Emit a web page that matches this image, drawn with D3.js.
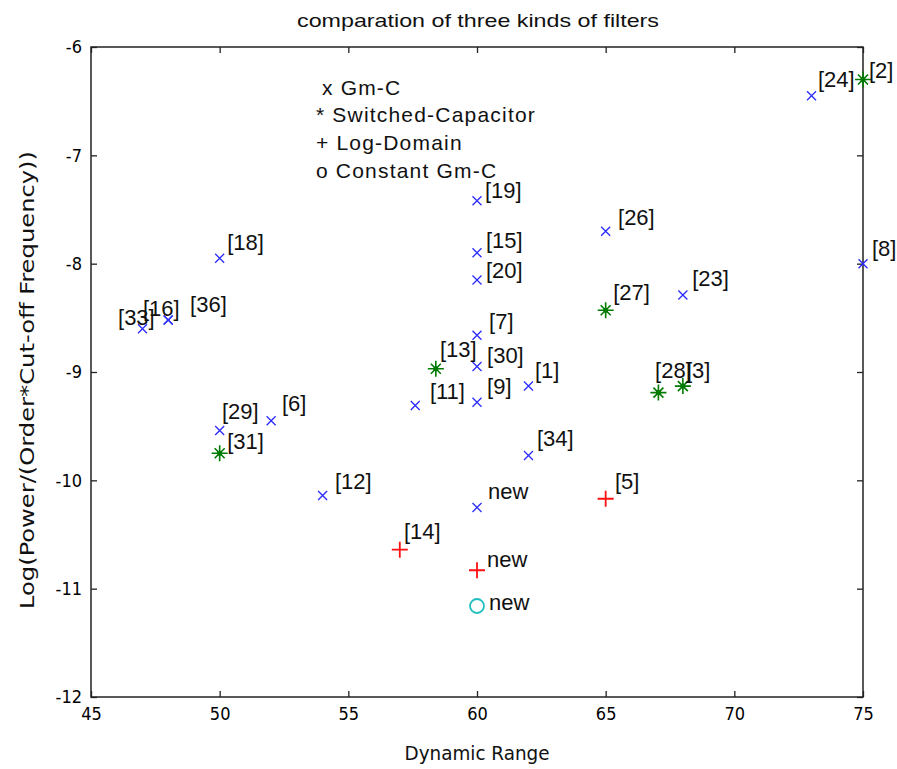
<!DOCTYPE html>
<html lang="en">
  <head>
    <meta charset="utf-8"/>
    <script src="https://d3js.org/d3.v7.min.js"></script>
    <style>
      body { margin: 0; background: #fff; }
      .tick text { font: 18px "Liberation Sans Narrow", "DejaVu Sans Condensed", sans-serif; fill: #000; }
      .tick line { stroke: #222; stroke-width: 1.3; }
      .lbl { font: 22px "Liberation Sans", Arial, sans-serif; fill: #111; }
      .legend text { font: 21px "Liberation Sans", Arial, sans-serif; fill: #111; letter-spacing: 1.2px; }
    </style>
  </head>
  <body>
    <svg class="chart"></svg>
  </body>
  <script>
    // Gm-C (blue x)
    const gmcX = [73, 75, 60, 65, 60, 60, 50, 47, 48, 48, 50, 52, 54, 57.6, 60, 60, 60, 62, 62, 68, 60];
    const gmcY = [-6.45, -8.0, -7.42, -7.70, -7.90, -8.15, -7.95, -8.60, -8.52, -8.52, -9.54, -9.45, -10.14, -9.31, -8.66, -8.95, -9.28, -9.13, -9.77, -8.29, -10.25];
    const gmcText = ["[24]", "[8]", "[19]", "[26]", "[15]", "[20]", "[18]", "[33]", "[16]", "[36]", "[29]", "[6]", "[12]", "[11]", "[7]", "[30]", "[9]", "[1]", "[34]", "[23]", "new"];
    const gmcTextX = [73.25, 75.35, 60.31, 65.48, 60.35, 60.35, 50.29, 46.05, 47.02, 48.85, 50.09, 52.42, 54.48, 58.17, 60.47, 60.39, 60.39, 62.25, 62.33, 68.36, 60.43];
    const gmcTextY = [-6.30, -7.86, -7.32, -7.57, -7.78, -8.06, -7.80, -8.49, -8.41, -8.37, -9.36, -9.29, -10.01, -9.18, -8.53, -8.84, -9.13, -8.98, -9.61, -8.13, -10.10];

    // Switched-Capacitor (green *)
    const scX = [75, 65, 58.4, 67.05, 68, 50];
    const scY = [-6.30, -8.43, -8.97, -9.19, -9.13, -9.75];
    const scText = ["[2]", "[27]", "[13]", "[28]", "[3]", "[31]"];
    const scTextX = [75.23, 65.29, 58.56, 66.92, 68.12, 50.29];
    const scTextY = [-6.21, -8.26, -8.79, -8.98, -8.98, -9.64];

    // Log-Domain (red +)
    const ldX = [57, 60, 65];
    const ldY = [-10.64, -10.83, -10.17];
    const ldText = ["[14]", "new", "[5]"];
    const ldTextX = [57.16, 60.39, 65.36];
    const ldTextY = [-10.47, -10.73, -10.01];

    // Constant Gm-C (cyan o)
    const cgX = [60];
    const cgY = [-11.16];
    const cgText = ["new"];
    const cgTextX = [60.47];
    const cgTextY = [-11.12];

    const legendLines = ["x Gm-C", "* Switched-Capacitor", "+ Log-Domain", "o Constant Gm-C"];
    const legendPos = [53.74, -6.37];

    const xTicks = [45, 50, 55, 60, 65, 70, 75];
    const yTicks = [-12, -11, -10, -9, -8, -7, -6];

    const W = 897, H = 769;
    const m = {left: 91, right: 34, top: 47, bottom: 72};

    const x = d3.scaleLinear().domain([45, 75]).range([m.left, W - m.right]);
    const y = d3.scaleLinear().domain([-12, -6]).range([H - m.bottom, m.top]);

    const svg = d3.select(".chart").attr("width", W).attr("height", H);

    const plain = d => String(d);

    // axes, ticks pointing inward
    svg.append("g").attr("transform", "translate(0," + (H - m.bottom) + ")")
      .call(d3.axisBottom(x).tickValues(xTicks).tickFormat(plain).tickSizeInner(-6).tickSizeOuter(0).tickPadding(10))
      .call(g => g.select(".domain").remove());
    svg.append("g").attr("transform", "translate(0," + m.top + ")")
      .call(d3.axisTop(x).tickValues(xTicks).tickSizeInner(-6).tickSizeOuter(0).tickFormat(""))
      .call(g => g.select(".domain").remove());
    svg.append("g").attr("transform", "translate(" + m.left + ",0)")
      .call(d3.axisLeft(y).tickValues(yTicks).tickFormat(plain).tickSizeInner(-6).tickSizeOuter(0).tickPadding(9))
      .call(g => g.select(".domain").remove());
    svg.append("g").attr("transform", "translate(" + (W - m.right) + ",0)")
      .call(d3.axisRight(y).tickValues(yTicks).tickSizeInner(-6).tickSizeOuter(0).tickFormat(""))
      .call(g => g.select(".domain").remove());

    svg.append("rect")
      .attr("x", x(45)).attr("y", y(-6))
      .attr("width", x(75) - x(45)).attr("height", y(-12) - y(-6))
      .attr("fill", "none").attr("stroke", "#222").attr("stroke-width", 1.5);

    // titles
    svg.append("text").attr("x", 478).attr("y", 27)
      .attr("text-anchor", "middle")
      .attr("textLength", 362).attr("lengthAdjust", "spacingAndGlyphs")
      .style("font", "19px 'Liberation Sans', Arial, sans-serif").attr("fill", "#111")
      .text("comparation of three kinds of filters");
    svg.append("text").attr("x", (x(45) + x(75)) / 2).attr("y", 760)
      .attr("text-anchor", "middle")
      .attr("textLength", 145).attr("lengthAdjust", "spacingAndGlyphs")
      .style("font", "20px 'Liberation Sans Narrow', 'DejaVu Sans Condensed', sans-serif").attr("fill", "#111")
      .text("Dynamic Range");
    svg.append("text")
      .attr("transform", "translate(34," + 380 + ") rotate(-90)")
      .attr("text-anchor", "middle")
      .attr("textLength", 458).attr("lengthAdjust", "spacingAndGlyphs")
      .style("font", "19px 'Liberation Sans Narrow', 'DejaVu Sans Condensed', sans-serif").attr("fill", "#111")
      .text("Log(Power/(Order*Cut-off Frequency))");

    function pts(xs, ys) { return xs.map((v, i) => ({x: v, y: ys[i]})); }

    // Gm-C markers
    const gx = svg.append("g").attr("stroke", "#2a2aff").attr("stroke-width", 1.3);
    gx.selectAll("path").data(pts(gmcX, gmcY)).join("path")
      .attr("d", d => {
        const cx = x(d.x), cy = y(d.y), s = 4.5;
        return `M${cx - s},${cy - s}L${cx + s},${cy + s}M${cx - s},${cy + s}L${cx + s},${cy - s}`;
      });

    // Switched-capacitor markers
    const gs = svg.append("g").attr("stroke", "#007a00").attr("stroke-width", 1.6);
    gs.selectAll("path").data(pts(scX, scY)).join("path")
      .attr("d", d => {
        const cx = x(d.x), cy = y(d.y), s = 8, t = 5;
        return `M${cx - s},${cy}L${cx + s},${cy}M${cx},${cy - s}L${cx},${cy + s}` +
          `M${cx - t},${cy - t}L${cx + t},${cy + t}M${cx - t},${cy + t}L${cx + t},${cy - t}`;
      });
    gs.selectAll("circle").data(pts(scX, scY)).join("circle")
      .attr("cx", d => x(d.x)).attr("cy", d => y(d.y)).attr("r", 2.5)
      .attr("fill", "#007a00").attr("stroke", "none");

    // Log-domain markers
    const gl = svg.append("g").attr("stroke", "#ff1010").attr("stroke-width", 1.8);
    gl.selectAll("path").data(pts(ldX, ldY)).join("path")
      .attr("d", d => {
        const cx = x(d.x), cy = y(d.y), s = 8;
        return `M${cx - s},${cy}L${cx + s},${cy}M${cx},${cy - s}L${cx},${cy + s}`;
      });

    // Constant Gm-C markers
    svg.append("g").selectAll("circle").data(pts(cgX, cgY)).join("circle")
      .attr("cx", d => x(d.x)).attr("cy", d => y(d.y)).attr("r", 7)
      .attr("fill", "none").attr("stroke", "#1fbfbf").attr("stroke-width", 1.8);

    // point labels
    function labels(txt, tx, ty) {
      svg.append("g").selectAll("text").data(txt.map((t, i) => ({t: t, x: tx[i], y: ty[i]}))).join("text")
        .attr("class", "lbl")
        .attr("x", d => x(d.x)).attr("y", d => y(d.y)).attr("dy", "0.36em")
        .text(d => d.t);
    }
    labels(gmcText, gmcTextX, gmcTextY);
    labels(scText, scTextX, scTextY);
    labels(ldText, ldTextX, ldTextY);
    labels(cgText, cgTextX, cgTextY);

    // legend text block (first line is indented by a space in the original)
    const legendIndent = [6, 0, 0, 0];
    const lg = svg.append("g").attr("class", "legend");
    lg.selectAll("text").data(legendLines).join("text")
      .attr("x", (d, i) => x(legendPos[0]) + legendIndent[i])
      .attr("y", (d, i) => y(legendPos[1]) + i * 27.7)
      .attr("dy", "0.36em")
      .text(d => d);
  </script>
</html>
